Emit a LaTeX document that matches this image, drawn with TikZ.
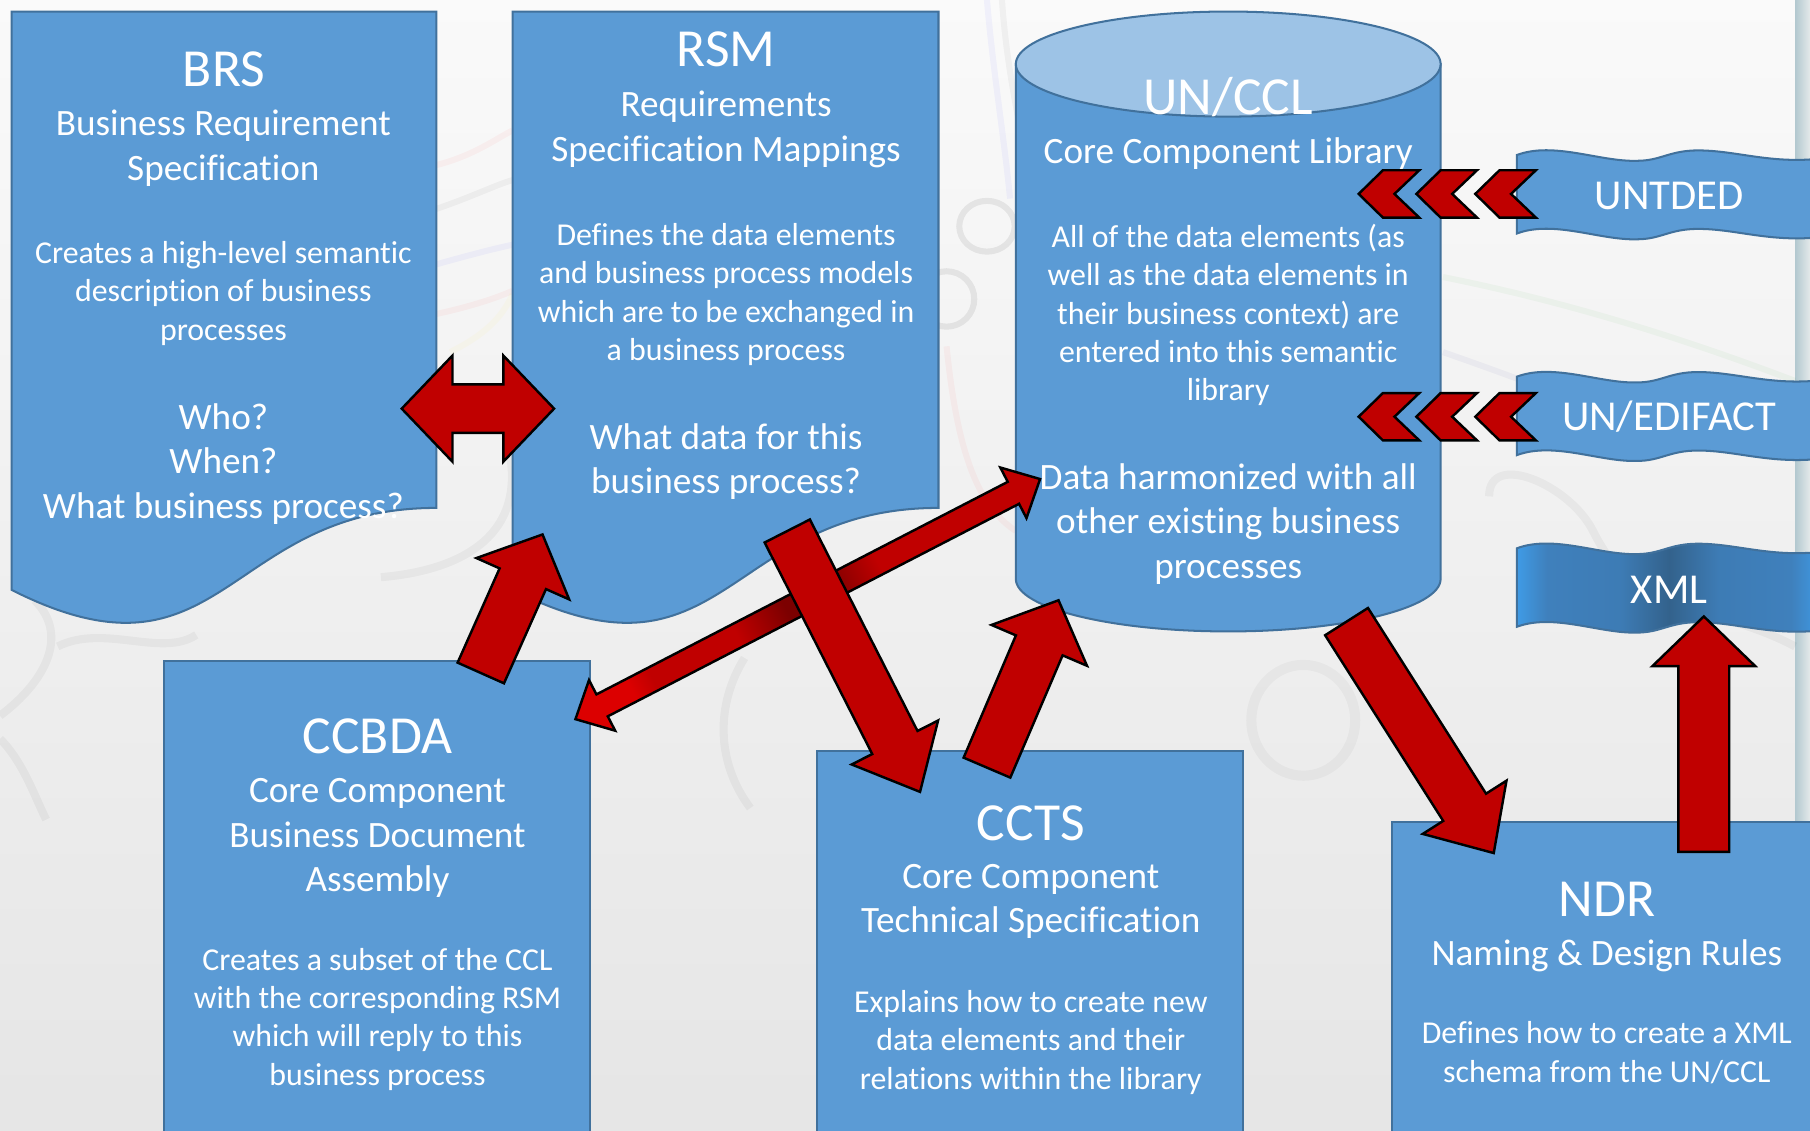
\documentclass[tikz,border=0pt]{standalone}
\usepackage{fontspec}
\setmainfont[Ligatures=NoCommon]{Carlito}
\usetikzlibrary{calc}
\definecolor{boxblue}{HTML}{5B9BD5}
\definecolor{boxline}{HTML}{41719C}
\definecolor{toplight}{HTML}{9DC3E6}
\definecolor{arrowred}{HTML}{C00000}
\definecolor{tipred}{HTML}{DC0000}
\definecolor{darkred}{HTML}{7C0000}
\definecolor{bandlight}{HTML}{3F9BE6}
\definecolor{bandmid}{HTML}{3F80BC}
\definecolor{banddark}{HTML}{33628C}
\definecolor{stripdark}{HTML}{B2C8CF}
\definecolor{striplight}{HTML}{E4E9EA}
\pgfdeclarehorizontalshading{xmlband}{100bp}{color(0bp)=(bandlight); color(25bp)=(bandlight); color(30bp)=(bandmid); color(42bp)=(bandmid!85!banddark); color(50bp)=(banddark); color(58bp)=(bandmid!85!banddark); color(70bp)=(bandmid); color(75bp)=(bandlight); color(100bp)=(bandlight)}
\pgfdeclarehorizontalshading{linkband}{100bp}{color(0bp)=(tipred); color(25bp)=(tipred); color(28bp)=(arrowred); color(40bp)=(arrowred); color(47bp)=(darkred); color(53bp)=(darkred); color(60bp)=(arrowred); color(75bp)=(arrowred); color(100bp)=(arrowred)}
\newcommand{\blockarrow}[5]{%
	\draw[redarrow] ($(#1)!#3!90:(#2)$) -- ($(#2)!#5!(#1)!#3!-90:(#1)$) -- ($(#2)!#5!(#1)!#4!-90:(#1)$) -- (#2)
	-- ($(#2)!#5!(#1)!#4!90:(#1)$) -- ($(#2)!#5!(#1)!#3!90:(#1)$) -- ($(#1)!#3!-90:(#2)$) -- cycle;}
\newcommand{\doublearrow}[6][]{%
	\draw[redarrow,#1] (#2) -- ($(#2)!#6!(#3)!#5!90:(#3)$) -- ($(#2)!#6!(#3)!#4!90:(#3)$)
	-- ($(#3)!#6!(#2)!#4!-90:(#2)$) -- ($(#3)!#6!(#2)!#5!-90:(#2)$) -- (#3)
	-- ($(#3)!#6!(#2)!#5!90:(#2)$) -- ($(#3)!#6!(#2)!#4!90:(#2)$)
	-- ($(#2)!#6!(#3)!#4!-90:(#3)$) -- ($(#2)!#6!(#3)!#5!-90:(#3)$) -- cycle;}
\tikzset{
	shape line/.style={draw=boxline,line width=.5pt,fill=boxblue},
	redarrow/.style={draw=black,line width=.6pt,fill=arrowred,line join=miter},
	faint/.style={line width=1.5pt,opacity=.04},
	headtext/.style={text=white,align=center,font=\fontsize{13.2}{16}\selectfont},
	subtext/.style={text=white,align=center,font=\fontsize{9.17}{10.95}\selectfont},
	bodytext/.style={text=white,align=center,font=\fontsize{7.85}{9.45}\selectfont},
	bandtext/.style={text=white,font=\fontsize{10.5}{12}\selectfont},
	chevron/.pic={\draw[redarrow] (0,0) -- (.21,-.205) -- (.525,-.205) -- (.31,0) -- (.525,.205) -- (.21,.205) -- cycle;},
	wave/.pic={\path[pic actions] (0,0) .. controls (.32,-.12) and (.72,.06) .. (1.04,.05)
		.. controls (1.25,.05) and (1.32,-.04) .. (1.57,-.04) .. controls (1.9,-.04) and (2.2,.08) .. (2.64,.03)
		-- (2.64,.71) .. controls (2.2,.76) and (1.9,.64) .. (1.57,.64) .. controls (1.32,.64) and (1.25,.73) .. (1.04,.73)
		.. controls (.72,.74) and (.32,.56) .. (0,.68) -- cycle;}
}
\begin{document}
\begin{tikzpicture}[y=-1cm]
	\clip (0,0) rectangle (15.68,9.79);
	% background
	\fill[top color=black!2,bottom color=black!10] (0,0) rectangle (15.68,9.79);
	\fill[left color=stripdark,right color=striplight] (15.55,0) rectangle (15.68,9.79);
	\draw[faint,red] (3.78,1.43) .. controls (4.1,1.35) and (4.3,1.2) .. (4.44,1.13);
	\draw[faint,black] (3.78,1.81) .. controls (4.1,1.7) and (4.3,1.6) .. (4.44,1.56);
	\draw[faint,blue] (3.78,2.29) .. controls (4.1,2.2) and (4.3,2.15) .. (4.44,2.12);
	\draw[faint,red] (3.78,2.72) .. controls (4.1,2.65) and (4.3,2.58) .. (4.44,2.52);
	\draw[faint,yellow] (3.9,3.05) .. controls (4.2,2.9) and (4.35,2.75) .. (4.44,2.55);
	\draw[faint,black,line width=2pt] (4.4,3.85) .. controls (4.6,4.7) and (3.9,4.95) .. (3.3,5.0);
	\draw[faint,blue] (8.55,0) .. controls (8.6,.6) and (8.7,1.2) .. (8.75,1.72);
	\draw[faint,black] (8.68,0) .. controls (8.72,.6) and (8.85,1.2) .. (8.95,1.6);
	\draw[faint,red] (8.2,3.0) .. controls (8.3,4.0) and (8.5,4.4) .. (8.8,4.6);
	\draw[faint,black,opacity=.07] (8.55,1.96) ellipse [x radius=.24cm,y radius=.22cm];
	\draw[faint,black,opacity=.07] (8.2,2.59) circle [radius=.24cm];
	\draw[faint,green!60!black] (12.5,2.4) .. controls (13.5,2.6) and (14.5,2.9) .. (15.55,3.3);
	\draw[faint,blue!50!black] (12.5,3.05) .. controls (13.5,3.4) and (14,3.6) .. (14.4,3.9);
	\draw[faint,black,line width=2pt] (12.9,4.3) .. controls (12.9,3.9) and (13.6,4.2) .. (13.8,4.6) .. controls (14.2,5.4) and (14.8,5.2) .. (15.55,5.6);
	\draw[faint,black,line width=2pt] (0,6.2) .. controls (.4,5.9) and (.6,5.5) .. (.3,5.2);
	\draw[faint,black,line width=2pt] (0,6.4) .. controls (.2,6.6) and (.3,6.9) .. (.4,7.1);
	\draw[faint,black,line width=2pt] (.5,5.6) .. controls (.9,5.4) and (1.4,5.7) .. (1.7,5.5);
	\draw[faint,black,line width=2pt] (6.45,5.7) .. controls (6.2,6.1) and (6.2,6.6) .. (6.5,7.0);
	\draw[faint,black,line width=2.5pt,opacity=.03] (11.29,6.24) ellipse [x radius=.45cm,y radius=.48cm];
	% documents
	\draw[shape line] (.10,.10) -- (3.78,.10) -- (3.78,4.40) .. controls (1.94,4.40) and (1.94,6.04) .. (.10,5.11) -- cycle;
	\draw[shape line] (4.44,.10) -- (8.13,.10) -- (8.13,4.40) .. controls (6.285,4.40) and (6.285,6.04) .. (4.44,5.11) -- cycle;
	% library
	\draw[shape line] (8.80,.555) -- (8.80,5.015) arc [start angle=180,end angle=360,x radius=1.84cm,y radius=.455cm] -- (12.48,.555) -- cycle;
	\draw[shape line,fill=toplight] (10.64,.555) ellipse [x radius=1.84cm,y radius=.455cm];
	% boxes
	\draw[shape line] (1.42,5.73) rectangle (5.11,10.2);
	\draw[shape line] (7.08,6.51) rectangle (10.77,10.2);
	\draw[shape line] (12.06,7.12) rectangle (15.8,10.2);
	% banners
	\pic[shape line] at (13.14,1.343) {wave};
	\pic[shape line] at (13.14,3.263) {wave};
	\pic[draw=boxline,line width=.5pt,shade,shading=xmlband] at (13.14,4.75) {wave};

	\node[headtext] (brs) at (1.94,.60) {BRS};
	\node[subtext] (brssub) at (1.935,1.285) {Business Requirement\\Specification};
	\node[bodytext] (brsbody) at (1.935,2.54) {Creates a high-level semantic\\description of business\\processes};
	\node[subtext] (brsask) at (1.935,4.02) {Who?\\When?\\What business process?};

	\node[headtext] (rsm) at (6.29,.43) {RSM};
	\node[subtext] (rsmsub) at (6.29,1.12) {Requirements\\Specification Mappings};
	\node[bodytext] (rsmbody) at (6.29,2.55) {Defines the data elements\\and business process models\\which are to be exchanged in\\a business process};
	\node[subtext] (rsmask) at (6.29,4.00) {What data for this\\business process?};

	\node[headtext] (ccl) at (10.64,.84) {UN/CCL};
	\node[subtext] (cclsub) at (10.64,1.33) {Core Component Library};
	\node[bodytext] (cclbody) at (10.64,2.73) {All of the data elements (as\\well as the data elements in\\their business context) are\\entered into this semantic\\library};
	\node[subtext] (cclask) at (10.64,4.54) {Data harmonized with all\\other existing business\\processes};

	\node[headtext] (ccbda) at (3.27,6.38) {CCBDA};
	\node[subtext] (ccbdasub) at (3.27,7.26) {Core Component\\Business Document\\Assembly};
	\node[bodytext] (ccbdabody) at (3.27,8.83) {Creates a subset of the CCL\\with the corresponding RSM\\which will reply to this\\business process};

	\node[headtext] (ccts) at (8.93,7.13) {CCTS};
	\node[subtext] (cctssub) at (8.93,7.81) {Core Component\\Technical Specification};
	\node[bodytext] (cctsbody) at (8.93,9.03) {Explains how to create new\\data elements and their\\relations within the library};

	\node[headtext] (ndr) at (13.92,7.79) {NDR};
	\node[subtext] (ndrsub) at (13.92,8.28) {Naming \& Design Rules};
	\node[bodytext] (ndrbody) at (13.92,9.12) {Defines how to create a XML\\schema from the UN/CCL};

	\node[bandtext] (untded) at (14.46,1.70) {UNTDED};
	\node[bandtext] (edifact) at (14.46,3.61) {UN/EDIFACT};
	\node[bandtext] (xml) at (14.46,5.11) {XML};

	% arrows
	\coordinate (brsend) at (3.48,3.54);
	\coordinate (rsmend) at (4.80,3.54);
	\coordinate (ccbdaend) at (4.985,6.23);
	\coordinate (cclend) at (9.01,4.15);
	\coordinate (ccbdatail) at (4.165,5.83);
	\coordinate (rsmtip) at (4.70,4.63);
	\coordinate (rsmtail) at (6.82,4.60);
	\coordinate (cctstip) at (7.97,6.86);
	\coordinate (cctstail) at (8.55,6.65);
	\coordinate (ccltip) at (9.17,5.20);
	\coordinate (ccltail) at (11.665,5.385);
	\coordinate (ndrtip) at (12.94,7.39);
	\coordinate (ndrtail) at (14.76,7.38);
	\coordinate (xmltip) at (14.76,5.34);

	\doublearrow{brsend}{rsmend}{.21cm}{.46cm}{.44cm}
	\blockarrow{ccbdatail}{rsmtip}{.22cm}{.44cm}{.42cm}
	\doublearrow[shade,shading=linkband,shading angle=27]{ccbdaend}{cclend}{.107cm}{.247cm}{.26cm}
	\blockarrow{rsmtail}{cctstip}{.22cm}{.42cm}{.48cm}
	\blockarrow{cctstail}{ccltip}{.22cm}{.45cm}{.425cm}
	\blockarrow{ccltail}{ndrtip}{.22cm}{.43cm}{.47cm}
	\blockarrow{ndrtail}{xmltip}{.22cm}{.445cm}{.43cm}

	\pic at (11.77,1.68) {chevron};
	\pic at (12.27,1.68) {chevron};
	\pic at (12.78,1.68) {chevron};
	\pic at (11.77,3.61) {chevron};
	\pic at (12.27,3.61) {chevron};
	\pic at (12.78,3.61) {chevron};
\end{tikzpicture}
\end{document}
